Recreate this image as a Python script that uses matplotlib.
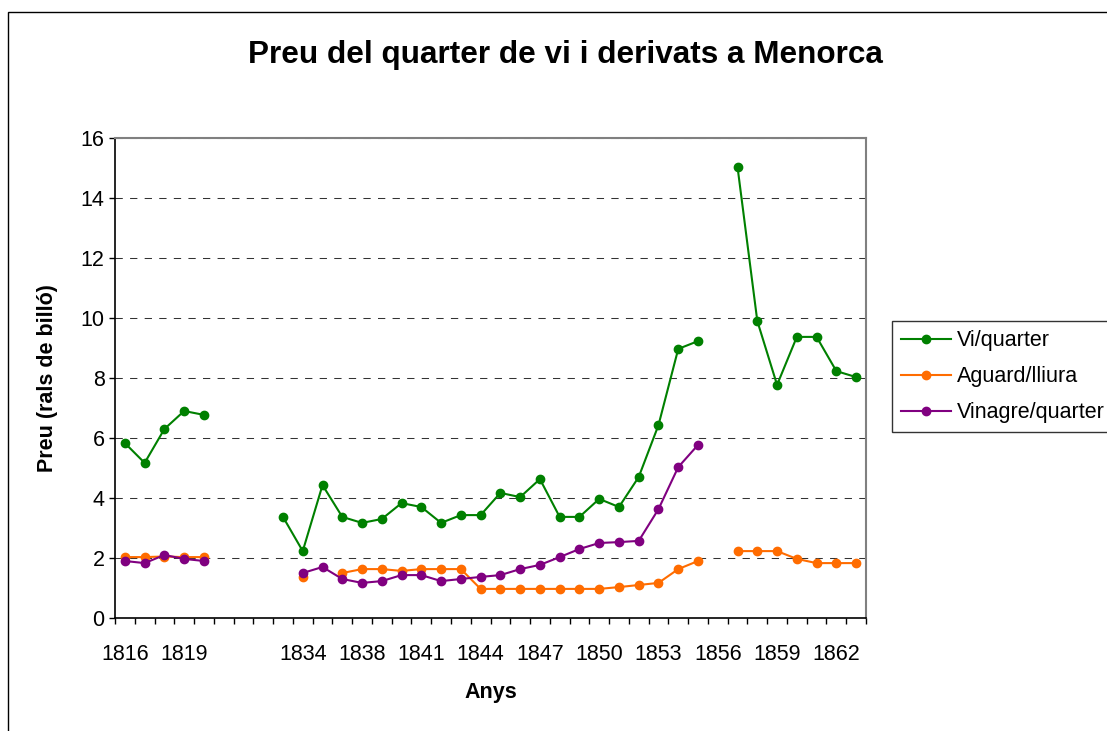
import numpy as np
import matplotlib
matplotlib.use("Agg")
import matplotlib.pyplot as plt
from matplotlib.patches import Rectangle

# --- Data ---
years = ["1816", "1817", "1818", "1819", "1820", "", "", "",
         "1833", "1834", "1835", "1837"] + [str(y) for y in range(1838, 1864)]

vi_quarter = [5.83, 5.17, 6.30, 6.90, 6.77, None, None, None,
              3.37, 2.23, 4.43, 3.37, 3.17, 3.30, 3.83, 3.70, 3.17, 3.43, 3.43,
              4.17, 4.03, 4.63, 3.37, 3.37, 3.97, 3.70, 4.70, 6.43, 8.97, 9.23,
              None, 15.03, 9.90, 7.77, 9.37, 9.37, 8.23, 8.03]

aguard_lliura = [2.03, 2.03, 2.05, 2.03, 2.03, None, None, None,
                 None, 1.37, None, 1.50, 1.63, 1.63, 1.57, 1.63, 1.63, 1.63, 0.97,
                 0.97, 0.97, 0.97, 0.97, 0.97, 0.97, 1.03, 1.10, 1.17, 1.63, 1.90,
                 None, 2.23, 2.23, 2.23, 1.97, 1.83, 1.83, 1.83]

vinagre_quarter = [1.90, 1.83, 2.10, 1.97, 1.90, None, None, None,
                   None, 1.50, 1.70, 1.30, 1.17, 1.23, 1.43, 1.43, 1.23, 1.30, 1.37,
                   1.43, 1.63, 1.77, 2.03, 2.30, 2.50, 2.53, 2.57, 3.63, 5.03, 5.77,
                   None, None, None, None, None, None, None, None]

series = [
    ("Vi/quarter", vi_quarter, "#008000"),
    ("Aguard/lliura", aguard_lliura, "#FF6C00"),
    ("Vinagre/quarter", vinagre_quarter, "#800080"),
]

FONT = "Liberation Sans"
W, H = 1107, 731

fig = plt.figure(figsize=(W / 100, H / 100), dpi=100)
ax = fig.add_axes([115 / W, 1 - 618 / H, (866 - 115) / W, (618 - 138) / H])

x = np.arange(len(years))
for name, vals, color in series:
    y = np.array([np.nan if v is None else v for v in vals], dtype=float)
    ax.plot(x, y, color=color, lw=1.5, marker="o", markersize=6,
            markeredgecolor=color, label=name)

ax.set_xlim(-0.5, len(years) - 0.5)
ax.set_ylim(0, 16)

# x axis: tick marks at category boundaries, labels on every 3rd category
ax.set_xticks(np.arange(len(years) + 1) - 0.5, minor=True)
ax.set_xticks(x[::3])
ax.set_xticklabels(years[::3], fontsize=15.5, fontfamily=FONT)
ax.tick_params(axis="x", which="major", length=0, pad=19)
ax.tick_params(axis="x", which="minor", length=4.5, width=1, direction="out")

ax.set_yticks(np.arange(0, 17, 2))
ax.set_yticklabels([str(v) for v in range(0, 17, 2)], fontsize=15.5, fontfamily=FONT)
ax.tick_params(axis="y", length=4.5, width=1, direction="out", pad=3)

ax.yaxis.grid(True, color="#333333", lw=0.75, linestyle=(0, (7, 7)))
ax.set_axisbelow(True)

for side in ["top", "right"]:
    ax.spines[side].set_color("#808080")
    ax.spines[side].set_linewidth(1.5)
for side in ["left", "bottom"]:
    ax.spines[side].set_color("black")
    ax.spines[side].set_linewidth(1.2)

ax.set_xlabel("Anys", fontsize=15.5, fontweight="bold", fontfamily=FONT)
ax.xaxis.set_label_coords(0.5, -0.133)
ax.set_ylabel("Preu (rals de billó)", fontsize=15.5, fontweight="bold", fontfamily=FONT)
ax.yaxis.set_label_coords(-0.076, 0.5)

fig.text(565 / W, 1 - 55 / H, "Preu del quarter de vi i derivats a Menorca",
         ha="center", va="center", fontsize=22.7, fontweight="bold", fontfamily=FONT)

leg = fig.legend(loc="upper left", bbox_to_anchor=(892 / W, 1 - 321 / H),
                 prop={"family": FONT, "size": 15.5}, frameon=True, fancybox=False,
                 handlelength=2.3, handletextpad=0.3, labelspacing=0.7,
                 borderpad=0.42, borderaxespad=0)
leg.get_frame().set_edgecolor("black")
leg.get_frame().set_linewidth(1.0)

# outer chart border
fig.patches.append(Rectangle((8 / W, -0.1), 2, 1.1 - 12 / H, transform=fig.transFigure,
                             fill=False, edgecolor="black", lw=1.0))

fig.savefig("out.png", dpi=100)
